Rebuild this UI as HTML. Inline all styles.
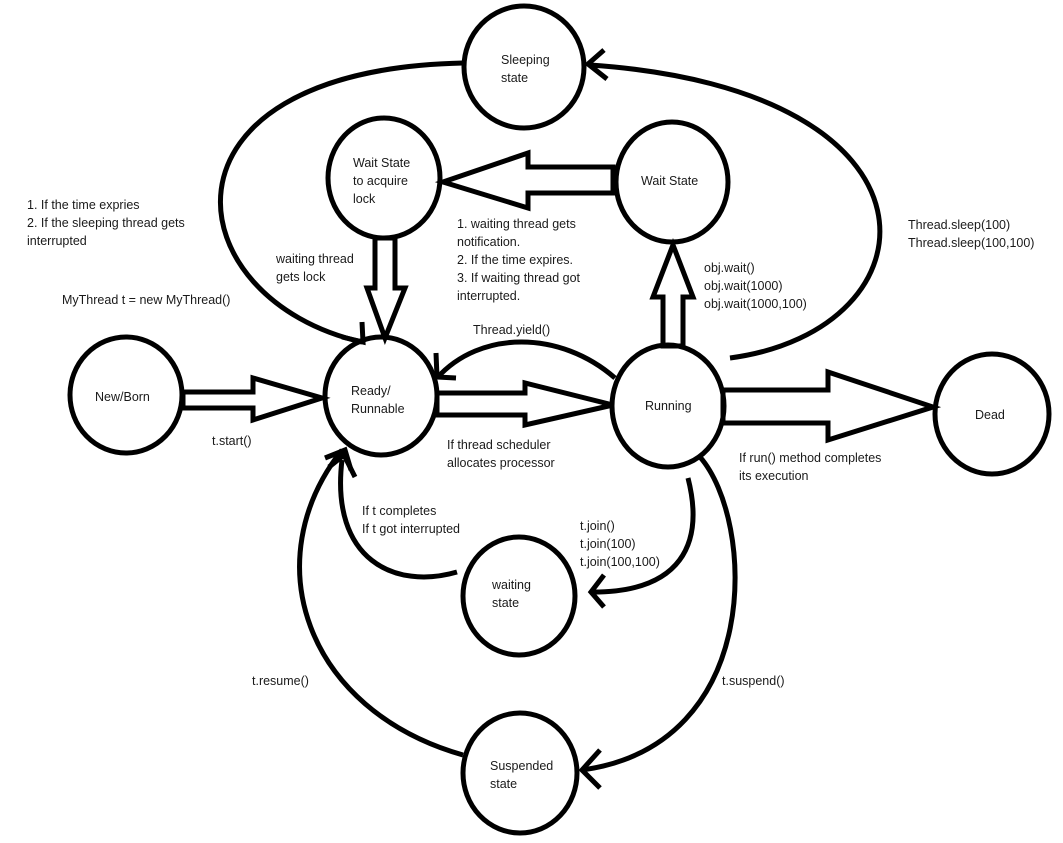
<!DOCTYPE html>
<html><head><meta charset="utf-8"><style>
html,body{margin:0;padding:0;background:#fff;}
svg{display:block;}
text{font-family:"Liberation Sans",sans-serif;font-size:12.5px;fill:#1a1a1a;}
</style></head><body>
<svg width="1063" height="843" viewBox="0 0 1063 843" xmlns="http://www.w3.org/2000/svg">
<g fill="none" stroke="#000" stroke-width="5" stroke-linejoin="miter">
<ellipse cx="524" cy="67" rx="60" ry="61"/>
<ellipse cx="384" cy="178" rx="56" ry="60"/>
<ellipse cx="672" cy="182" rx="56" ry="60"/>
<ellipse cx="126" cy="395" rx="56" ry="58"/>
<ellipse cx="381" cy="396" rx="56" ry="59"/>
<ellipse cx="668" cy="406" rx="56" ry="61"/>
<ellipse cx="992" cy="414" rx="57" ry="60"/>
<ellipse cx="519" cy="596" rx="56" ry="59"/>
<ellipse cx="520" cy="773" rx="57" ry="60"/>

<polygon points="183,392 253,392 253,378 322,398 253,420 253,408 183,408"/>
<polygon points="437,393 525,393 525,383 613,405 525,425 525,415 437,415"/>
<polygon points="723,390 828,390 828,372 933,407 828,440 828,423 723,423"/>
<polygon points="613,167 528,167 528,153 443,182 528,208 528,193 613,193"/>
<polygon points="375,238 395,238 395,288 405,288 385,338 367,288 375,288"/>
<polygon points="663,346 663,297 653,297 673,245 693,297 683,297 683,346"/>

<path d="M730,358 C 940,330 960,90 590,65"/>
<path d="M604,50 L588,64 L607,79"/>
<path d="M463,63 C 140,70 175,300 362,342"/>
<path d="M362,322 L363,342 L342,337"/>
<path d="M615,378 C 560,330 480,330 437,378"/>
<path d="M436,353 L437,377 L456,378"/>
<path d="M688,478 C 705,545 680,592 593,592"/>
<path d="M604,575 L591,592 L604,607"/>
<path d="M457,572 C 395,590 330,560 342,460"/>
<path d="M329,467 L344,455 L355,477"/>
<path d="M700,457 C 755,520 765,745 582,770"/>
<path d="M600,750 L582,770 L600,788"/>
<path d="M463,755 C 305,710 255,560 342,450"/>
<path d="M325,458 L345,450 L351,470"/>
</g>

<text x="501" y="64">Sleeping</text>
<text x="501" y="82">state</text>
<text x="353" y="167">Wait State</text>
<text x="353" y="185">to acquire</text>
<text x="353" y="203">lock</text>
<text x="641" y="185">Wait State</text>
<text x="95" y="401">New/Born</text>
<text x="351" y="395">Ready/</text>
<text x="351" y="413">Runnable</text>
<text x="645" y="410">Running</text>
<text x="975" y="419">Dead</text>
<text x="492" y="589">waiting</text>
<text x="492" y="607">state</text>
<text x="490" y="770">Suspended</text>
<text x="490" y="788">state</text>

<text x="27" y="209">1. If the time expries</text>
<text x="27" y="227">2. If the sleeping thread gets</text>
<text x="27" y="245">interrupted</text>
<text x="276" y="263">waiting thread</text>
<text x="276" y="281">gets lock</text>
<text x="62" y="304">MyThread t = new MyThread()</text>
<text x="457" y="228">1. waiting thread gets</text>
<text x="457" y="246">notification.</text>
<text x="457" y="264">2. If the time expires.</text>
<text x="457" y="282">3. If waiting thread got</text>
<text x="457" y="300">interrupted.</text>
<text x="473" y="334">Thread.yield()</text>
<text x="704" y="272">obj.wait()</text>
<text x="704" y="290">obj.wait(1000)</text>
<text x="704" y="308">obj.wait(1000,100)</text>
<text x="908" y="229">Thread.sleep(100)</text>
<text x="908" y="247">Thread.sleep(100,100)</text>
<text x="212" y="445">t.start()</text>
<text x="447" y="449">If thread scheduler</text>
<text x="447" y="467">allocates processor</text>
<text x="739" y="462">If run() method completes</text>
<text x="739" y="480">its execution</text>
<text x="362" y="515">If t completes</text>
<text x="362" y="533">If t got interrupted</text>
<text x="580" y="530">t.join()</text>
<text x="580" y="548">t.join(100)</text>
<text x="580" y="566">t.join(100,100)</text>
<text x="252" y="685">t.resume()</text>
<text x="722" y="685">t.suspend()</text>
</svg>
</body></html>
